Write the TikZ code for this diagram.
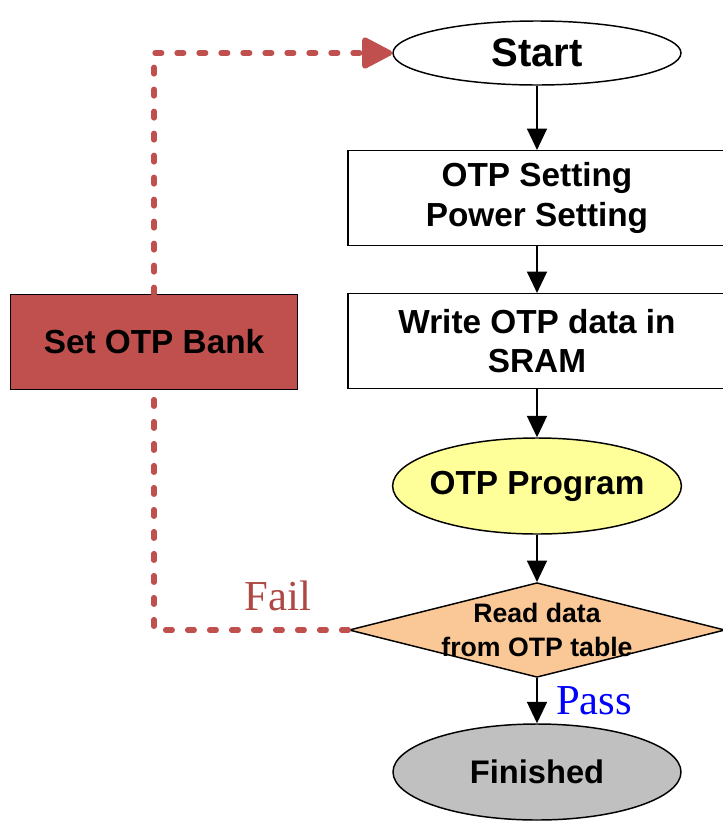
\documentclass[tikz,border=0pt]{standalone}
\usepackage{fontspec}
\setmainfont{Liberation Sans}
\newfontfamily\notefont{Liberation Serif}
\usetikzlibrary{shapes.geometric,arrows.meta}
\definecolor{bankred}{HTML}{C0504D}
\definecolor{progyellow}{HTML}{FFFF99}
\definecolor{readorange}{HTML}{FAC896}
\definecolor{donegray}{HTML}{C0C0C0}
\tikzset{
  flowbox/.style={draw, rectangle, line width=1.1pt, minimum width=283.5pt, minimum height=71pt,
    inner sep=0pt, align=center, font=\fontsize{25}{29.5}\selectfont\bfseries},
  term/.style={draw, ellipse, line width=1.1pt, minimum width=216pt, inner sep=0pt,
    font=\fontsize{25}{30}\selectfont\bfseries},
  flowarrow/.style={-{Triangle[length=16pt,width=15pt]}, line width=1.1pt},
  failpath/.style={draw=bankred, line width=4pt, line cap=round, dash pattern=on 5pt off 11.5pt}
}
\begin{document}
\begin{tikzpicture}[x=0.75pt,y=-0.75pt]
  \useasboundingbox (0,0) rectangle (723,822);
  % main column
  \node (start) [term, minimum height=48pt, font=\fontsize{30}{36}\selectfont\bfseries] at (537,53) {Start};
  \node (otpset) [flowbox] at (537,198) {OTP Setting\\Power Setting};
  \node (sram) [flowbox] at (537,341) {Write OTP data in\\SRAM};
  \node (prog) [term, minimum height=72pt, fill=progyellow, inner xsep=-4pt] at (537,486) {OTP Program};
  \node (chk) [draw, diamond, line width=1.1pt, minimum width=282pt, minimum height=71pt,
    inner sep=0pt, fill=readorange] at (537,630) {};
  \node (chktext) [align=center, font=\fontsize{20}{25}\selectfont\bfseries] at (chk.center) {Read data\\from OTP table};
  \node (done) [term, minimum height=72pt, fill=donegray, font=\fontsize{24.5}{30}\selectfont\bfseries] at (537,772) {Finished};
  % side box
  \node (bank) [flowbox, minimum width=215pt, fill=bankred] at (154,342) {Set OTP Bank};
  % arrows
  \draw [flowarrow] (start) -- (otpset);
  \draw [flowarrow] (otpset) -- (sram);
  \draw [flowarrow] (sram) -- (prog);
  \draw [flowarrow] (prog) -- (chk);
  \draw [flowarrow] (chk) -- (done);
  % fail loop
  \draw [failpath] (chk.west) -| (bank.south);
  \draw [failpath, -{Triangle[length=25pt,width=25pt,round=false]}] (bank.north) |- (start.west);
  \node (fail) [font=\notefont\fontsize{32}{32}\selectfont, text=bankred!90!black] at (278,596) {Fail};
  \node (pass) [font=\notefont\fontsize{32}{32}\selectfont, text=blue] at (594,701) {Pass};
\end{tikzpicture}
\end{document}
